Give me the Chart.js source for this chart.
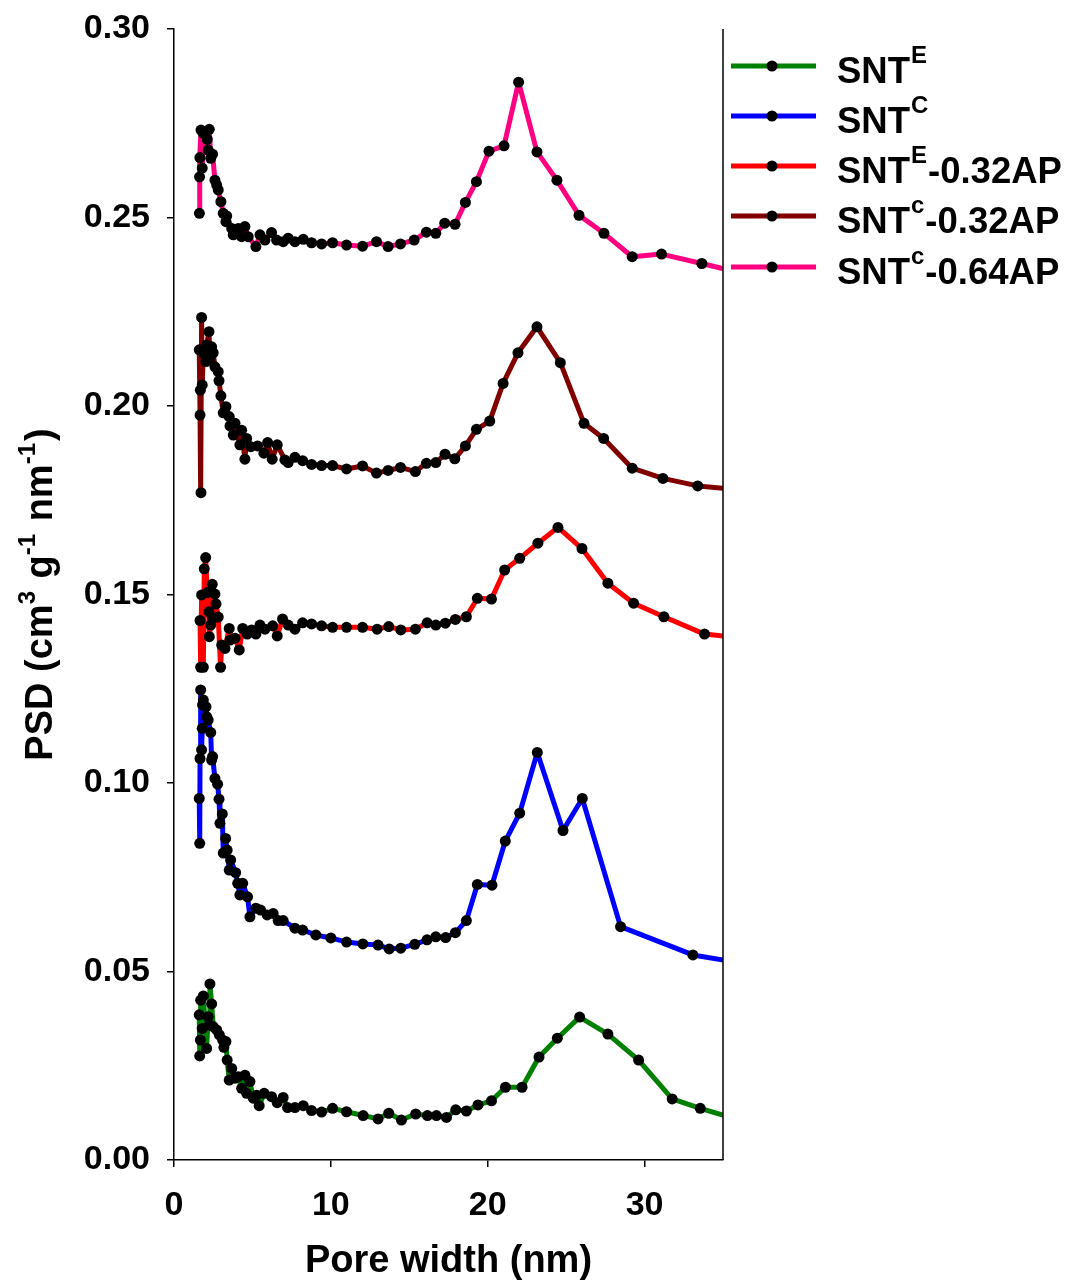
<!DOCTYPE html>
<html>
<head>
<meta charset="utf-8">
<title>PSD</title>
<script src="https://cdn.jsdelivr.net/npm/chart.js@4.4.1/dist/chart.umd.min.js"></script>
<style>
  html, body { margin: 0; padding: 0; background: #fff; }
  #chart { display: block; }
</style>
</head>
<body>
<canvas id="chart" width="1072" height="1280"></canvas>
<script>
// ---------- datos ----------
const xTicks = [0, 10, 20, 30];
const yTicks = [0, 0.05, 0.10, 0.15, 0.20, 0.25, 0.30];

const legendBase   = ["SNT", "SNT", "SNT", "SNT", "SNT"];
const legendSup    = ["E", "C", "E", "c", "c"];
const legendSuffix = ["", "", "-0.32AP", "-0.32AP", "-0.64AP"];
const lineColors   = ["#008000", "#0000ff", "#ff0000", "#800000", "#ff0080"];

// SNT^E (verde)
const snteX = [1.61, 1.64, 1.68, 1.70, 1.80, 1.87, 2.08, 2.18, 2.25, 2.29, 2.40, 2.50, 2.72, 2.89, 3.10, 3.18, 3.31, 3.39, 3.52, 3.68,
  3.89, 4.10, 4.31, 4.52, 4.63, 4.84, 5.05, 5.27, 5.43, 5.75, 6.22, 6.58, 6.96, 7.24, 7.71, 8.24, 8.77, 9.41, 10.11, 11.0,
  12.06, 13.01, 13.69, 14.50, 15.41, 16.16, 16.73, 17.37, 17.96, 18.64, 19.38, 20.24, 21.13, 22.19, 23.27, 24.44, 25.86, 27.66, 29.62, 31.76,
  33.55, 35.5];
const snteY = [0.0385, 0.0276, 0.0318, 0.0424, 0.0349, 0.0435, 0.0296, 0.0380, 0.0358, 0.0467, 0.0414, 0.0354, 0.0345, 0.0332, 0.0318, 0.0299, 0.0314, 0.0265, 0.0212, 0.0243,
  0.0217, 0.0221, 0.0190, 0.0225, 0.0177, 0.0208, 0.0164, 0.0172, 0.0144, 0.0177, 0.0168, 0.0152, 0.0166, 0.0139, 0.0139, 0.0144, 0.0131, 0.0127, 0.0137, 0.0128,
  0.0118, 0.0109, 0.0124, 0.0106, 0.0122, 0.0118, 0.0118, 0.0113, 0.0133, 0.0130, 0.0146, 0.0157, 0.0193, 0.0193, 0.0273, 0.0323, 0.0379, 0.0334, 0.0265, 0.0162,
  0.0137, 0.0113];

// SNT^C (azul)
const sntcX = [1.61, 1.64, 1.66, 1.70, 1.76, 1.80, 1.82, 1.87, 2.04, 2.08, 2.18, 2.34, 2.40, 2.46, 2.61, 2.78, 2.87, 2.93, 3.08, 3.14,
  3.29, 3.39, 3.52, 3.61, 3.93, 4.06, 4.20, 4.38, 4.69, 4.84, 5.22, 5.52, 5.94, 6.32, 6.64, 6.96, 7.71, 8.20, 9.04, 10.0,
  11.0, 12.04, 13.01, 13.72, 14.46, 15.35, 16.13, 16.69, 17.32, 17.94, 18.64, 19.34, 20.27, 21.12, 22.04, 23.16, 24.80, 26.03, 28.47, 33.08,
  35.5];
const sntcY = [0.0959, 0.0840, 0.1065, 0.1247, 0.1088, 0.1145, 0.1207, 0.1220, 0.1202, 0.1176, 0.1167, 0.1134, 0.1061, 0.1070, 0.1012, 0.0997, 0.0957, 0.0893, 0.0918, 0.0814,
  0.0853, 0.0822, 0.0769, 0.0796, 0.0762, 0.0734, 0.0703, 0.0734, 0.0698, 0.0645, 0.0668, 0.0663, 0.0650, 0.0654, 0.0635, 0.0635, 0.0615, 0.0610, 0.0597, 0.0589,
  0.0578, 0.0573, 0.0570, 0.0560, 0.0562, 0.0572, 0.0584, 0.0592, 0.0590, 0.0603, 0.0635, 0.0731, 0.0729, 0.0846, 0.0920, 0.1081, 0.0874, 0.0959, 0.0619, 0.0544,
  0.0527];

// SNT^E-0.32AP (rojo)
const snte32X = [1.66, 1.70, 1.76, 1.87, 1.93, 2.02, 2.12, 2.23, 2.25, 2.34, 2.44, 2.46, 2.61, 2.68, 2.82, 2.97, 3.04, 3.25, 3.52, 3.57,
  3.89, 4.16, 4.38, 4.67, 4.95, 5.22, 5.48, 5.80, 6.29, 6.58, 6.92, 7.28, 7.71, 8.20, 8.77, 9.41, 10.11, 11.0, 12.02, 12.95,
  13.69, 14.46, 15.39, 16.14, 16.69, 17.30, 17.94, 18.64, 19.34, 20.24, 21.08, 22.04, 23.20, 24.48, 26.01, 27.66, 29.30, 31.23, 33.82, 35.5];
const snte32Y = [0.1431, 0.1307, 0.1499, 0.1307, 0.1568, 0.1598, 0.1505, 0.1454, 0.1388, 0.1419, 0.1527, 0.1437, 0.1501, 0.1475, 0.1440, 0.1307, 0.1366, 0.1357, 0.1410, 0.1379,
  0.1384, 0.1353, 0.1410, 0.1395, 0.1406, 0.1395, 0.1419, 0.1408, 0.1417, 0.1390, 0.1435, 0.1419, 0.1408, 0.1425, 0.1422, 0.1417, 0.1413, 0.1413, 0.1413, 0.1408,
  0.1415, 0.1406, 0.1408, 0.1425, 0.1419, 0.1424, 0.1434, 0.1441, 0.1490, 0.1488, 0.1565, 0.1596, 0.1636, 0.1678, 0.1622, 0.1530, 0.1477, 0.1441, 0.1395, 0.1388];

// SNT^c-0.32AP (granate)
const sntc32X = [1.61, 1.66, 1.68, 1.72, 1.76, 1.80, 1.87, 2.04, 2.08, 2.23, 2.29, 2.40, 2.50, 2.61, 2.82, 2.87, 2.99, 3.14, 3.31, 3.52,
  3.57, 3.78, 3.89, 4.20, 4.31, 4.52, 4.63, 4.90, 5.33, 5.73, 5.97, 6.26, 6.58, 7.07, 7.28, 7.71, 8.20, 8.77, 9.41, 10.11,
  11.0, 12.02, 12.91, 13.65, 14.44, 15.39, 16.09, 16.69, 17.28, 17.90, 18.58, 19.28, 20.13, 20.98, 21.93, 23.14, 24.63, 26.14, 27.39, 29.21,
  31.17, 33.39, 35.5];
const sntc32Y = [0.2149, 0.1976, 0.2042, 0.1770, 0.2235, 0.2056, 0.2140, 0.2118, 0.2162, 0.2197, 0.2127, 0.2157, 0.2141, 0.2104, 0.2091, 0.2067, 0.2027, 0.1982, 0.1998, 0.1972,
  0.1947, 0.1923, 0.1954, 0.1897, 0.1936, 0.1859, 0.1914, 0.1892, 0.1894, 0.1875, 0.1903, 0.1859, 0.1897, 0.1857, 0.1850, 0.1864, 0.1855, 0.1845, 0.1842, 0.1842,
  0.1833, 0.1841, 0.1822, 0.1829, 0.1837, 0.1826, 0.1848, 0.1850, 0.1872, 0.1860, 0.1894, 0.1938, 0.1960, 0.2060, 0.2141, 0.2210, 0.2115, 0.1954, 0.1914, 0.1835,
  0.1808, 0.1788, 0.1780];

// SNT^c-0.64AP (rosa)
const sntc64X = [1.62, 1.63, 1.65, 1.72, 1.80, 1.87, 2.12, 2.18, 2.25, 2.34, 2.46, 2.61, 2.72, 2.82, 2.99, 3.14, 3.31, 3.36, 3.68, 3.78,
  4.10, 4.31, 4.52, 4.73, 5.22, 5.48, 5.80, 6.22, 6.54, 6.96, 7.28, 7.71, 8.24, 8.77, 9.41, 10.11, 11.0, 12.02, 12.91, 13.65,
  14.44, 15.31, 16.09, 16.69, 17.26, 17.92, 18.58, 19.28, 20.08, 21.04, 21.97, 23.14, 24.41, 25.82, 27.41, 29.21, 31.08, 33.65, 36.2];
const sntc64Y = [0.2511, 0.2608, 0.2659, 0.2732, 0.2631, 0.2723, 0.2707, 0.2679, 0.2734, 0.2657, 0.2668, 0.2599, 0.2586, 0.2573, 0.2542, 0.2511, 0.2489, 0.2504, 0.2471, 0.2454,
  0.2471, 0.2449, 0.2476, 0.2449, 0.2423, 0.2454, 0.2440, 0.2460, 0.2440, 0.2436, 0.2445, 0.2436, 0.2442, 0.2433, 0.2430, 0.2433, 0.2427, 0.2424, 0.2436, 0.2423,
  0.2430, 0.2440, 0.2461, 0.2458, 0.2485, 0.2482, 0.2540, 0.2595, 0.2676, 0.2690, 0.2859, 0.2674, 0.2599, 0.2506, 0.2458, 0.2396, 0.2403, 0.2378, 0.2352];

const seriesX = [snteX, sntcX, snte32X, sntc32X, sntc64X];
const seriesY = [snteY, sntcY, snte32Y, sntc32Y, sntc64Y];

// ---------- estilo ----------
const FONT = '"Liberation Sans", Arial, Helvetica, sans-serif';
const PLOT_LEFT = 174, PLOT_RIGHT = 723, PLOT_TOP = 29, PLOT_BOTTOM = 1160;
const W = 1072, H = 1280;

function toPoints(xs, ys){ return xs.map((x, i) => ({ x: x, y: ys[i] })); }

const datasets = seriesX.map((xs, i) => ({
  label: legendBase[i] + legendSup[i] + legendSuffix[i],
  data: toPoints(xs, seriesY[i]),
  borderColor: lineColors[i],
  backgroundColor: "#000",
  borderWidth: 5,
  pointRadius: 5.5,
  pointBackgroundColor: "#000",
  pointBorderColor: "#000",
  pointBorderWidth: 0,
  pointHoverRadius: 5.5,
  tension: 0,
  borderJoinStyle: "round",
  fill: false
}));

// texto con superíndices
function drawRich(ctx, parts, x, y, mainSize, supSize, supRise){
  let cx = x;
  for (const p of parts){
    ctx.font = "bold " + (p.sup ? supSize : mainSize) + "px " + FONT;
    ctx.fillText(p.t, cx, p.sup ? y - supRise : y);
    cx += ctx.measureText(p.t).width + (p.gap || 0);
  }
  return cx - x;
}
function richWidth(ctx, parts, mainSize, supSize){
  let w = 0;
  for (const p of parts){
    ctx.font = "bold " + (p.sup ? supSize : mainSize) + "px " + FONT;
    w += ctx.measureText(p.t).width + (p.gap || 0);
  }
  return w;
}

const decorPlugin = {
  id: "decor",
  afterDraw(chart){
    const ctx = chart.ctx;
    const area = chart.chartArea;
    ctx.save();
    // borde derecho
    ctx.strokeStyle = "#000";
    ctx.lineWidth = 1.5;
    ctx.beginPath();
    ctx.moveTo(area.right, area.top);
    ctx.lineTo(area.right, area.bottom);
    ctx.stroke();

    ctx.fillStyle = "#000";
    ctx.textBaseline = "alphabetic";
    ctx.textAlign = "left";

    // título eje X
    ctx.font = "bold 38px " + FONT;
    const xt = "Pore width (nm)";
    const xw = ctx.measureText(xt).width;
    ctx.fillText(xt, (area.left + area.right) / 2 - xw / 2, 1272);

    // título eje Y (rotado)
    const yParts = [
      { t: "PSD (cm" }, { t: "3", sup: true, gap: 2 }, { t: " g" }, { t: "-1", sup: true, gap: 2 },
      { t: " nm" }, { t: "-1", sup: true, gap: 2 }, { t: ")" }
    ];
    const yw = richWidth(ctx, yParts, 38, 24);
    ctx.save();
    ctx.translate(52, (area.top + area.bottom) / 2);
    ctx.rotate(-Math.PI / 2);
    drawRich(ctx, yParts, -yw / 2, 0, 38, 24, 17);
    ctx.restore();

    // leyenda
    const rowY = [66, 116, 166, 216, 267];
    for (let i = 0; i < rowY.length; i++){
      const y = rowY[i];
      ctx.strokeStyle = lineColors[i];
      ctx.lineWidth = 5;
      ctx.beginPath();
      ctx.moveTo(731, y);
      ctx.lineTo(816, y);
      ctx.stroke();
      ctx.fillStyle = "#000";
      ctx.beginPath();
      ctx.arc(772, y, 5.5, 0, Math.PI * 2);
      ctx.fill();
      const parts = [{ t: legendBase[i], gap: 1 }, { t: legendSup[i], sup: true, gap: 1 }];
      if (legendSuffix[i]) parts.push({ t: legendSuffix[i] });
      drawRich(ctx, parts, 837, y + 17, 36.5, 24, 20);
    }
    ctx.restore();
  }
};

const chart = new Chart(document.getElementById("chart"), {
  type: "line",
  data: { datasets },
  options: {
    responsive: false,
    animation: false,
    devicePixelRatio: 1,
    layout: { padding: { top: PLOT_TOP, right: W - PLOT_RIGHT, bottom: 0, left: 0 } },
    plugins: { legend: { display: false }, tooltip: { enabled: false }, title: { display: false } },
    scales: {
      x: {
        type: "linear",
        min: 0, max: 35,
        afterBuildTicks: s => { s.ticks = xTicks.map(v => ({ value: v })); },
        afterFit: s => { s.height = H - PLOT_BOTTOM; s.paddingLeft = 0; s.paddingRight = 0; },
        grid: { drawOnChartArea: false, drawTicks: true, tickLength: 7, color: "#000", lineWidth: 1.5 },
        border: { display: true, color: "#000", width: 1.5 },
        ticks: { color: "#000", padding: 18, maxRotation: 0, font: { family: FONT, size: 34, weight: "bold" },
                 callback: v => String(v) }
      },
      y: {
        type: "linear",
        min: 0, max: 0.30,
        afterBuildTicks: s => { s.ticks = yTicks.map(v => ({ value: v })); },
        afterFit: s => { s.width = PLOT_LEFT; s.paddingTop = 0; s.paddingBottom = 0; },
        grid: { drawOnChartArea: false, drawTicks: true, tickLength: 7, color: "#000", lineWidth: 1.5 },
        border: { display: true, color: "#000", width: 1.5 },
        ticks: { color: "#000", padding: 17, font: { family: FONT, size: 34, weight: "bold" },
                 callback: v => Number(v).toFixed(2) }
      }
    }
  },
  plugins: [decorPlugin]
});
</script>
</body>
</html>
